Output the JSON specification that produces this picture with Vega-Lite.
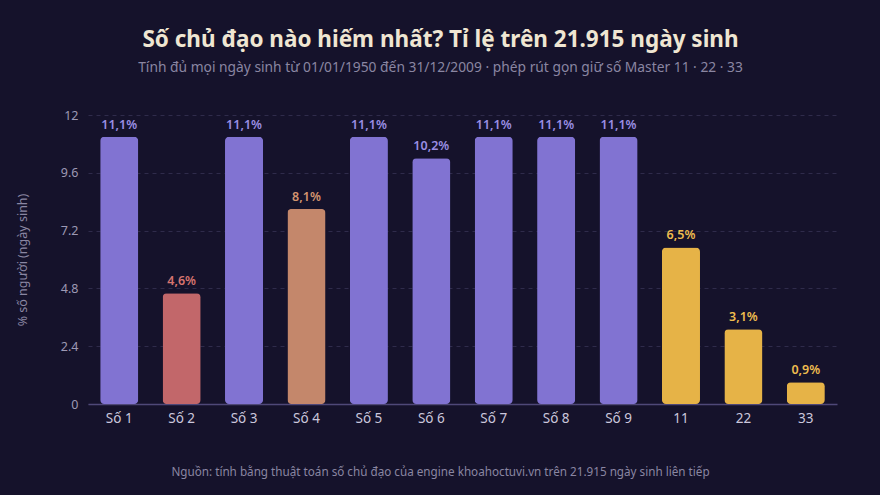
{
  "$schema": "https://vega.github.io/schema/vega-lite/v6.json",
  "width": 749,
  "height": 289,
  "autosize": {"type": "none"},
  "padding": {"left": 88, "top": 115, "right": 43, "bottom": 91},
  "background": "#15122b",
  "title": {
    "text": "Số chủ đạo nào hiếm nhất? Tỉ lệ trên 21.915 ngày sinh",
    "subtitle": "Tính đủ mọi ngày sinh từ 01/01/1950 đến 31/12/2009 · phép rút gọn giữ số Master 11 · 22 · 33",
    "anchor": "middle",
    "dx": -22,
    "offset": 34,
    "font": "Noto Sans",
    "fontSize": 22.5,
    "fontWeight": "bold",
    "color": "#efe6d2",
    "subtitleFont": "Noto Sans",
    "subtitleFontSize": 13.8,
    "subtitleColor": "#8a86a2",
    "subtitlePadding": 10
  },
  "data": {
    "values": [
      {"so": "Số 1", "pct": 11.1, "nhan": "11,1%", "nhom": "thuong"},
      {"so": "Số 2", "pct": 4.6, "nhan": "4,6%", "nhom": "hai"},
      {"so": "Số 3", "pct": 11.1, "nhan": "11,1%", "nhom": "thuong"},
      {"so": "Số 4", "pct": 8.1, "nhan": "8,1%", "nhom": "bon"},
      {"so": "Số 5", "pct": 11.1, "nhan": "11,1%", "nhom": "thuong"},
      {"so": "Số 6", "pct": 10.2, "nhan": "10,2%", "nhom": "thuong"},
      {"so": "Số 7", "pct": 11.1, "nhan": "11,1%", "nhom": "thuong"},
      {"so": "Số 8", "pct": 11.1, "nhan": "11,1%", "nhom": "thuong"},
      {"so": "Số 9", "pct": 11.1, "nhan": "11,1%", "nhom": "thuong"},
      {"so": "11", "pct": 6.5, "nhan": "6,5%", "nhom": "master"},
      {"so": "22", "pct": 3.1, "nhan": "3,1%", "nhom": "master"},
      {"so": "33", "pct": 0.9, "nhan": "0,9%", "nhom": "master"}
    ]
  },
  "encoding": {
    "x": {
      "field": "so",
      "type": "nominal",
      "sort": null,
      "scale": {"paddingInner": 0.39, "paddingOuter": 0.195},
      "axis": {
        "title": "Nguồn: tính bằng thuật toán số chủ đạo của engine khoahoctuvi.vn trên 21.915 ngày sinh liên tiếp",
        "titleFont": "Noto Sans",
        "titleFontSize": 11.7,
        "titleFontWeight": "normal",
        "titleColor": "#8a86a2",
        "titlePadding": 42,
        "titleX": 352,
        "titleAlign": "center",
        "labelAngle": 0,
        "labelFont": "Noto Sans",
        "labelFontSize": 13.5,
        "labelColor": "#cbc7dc",
        "labelPadding": 7,
        "ticks": false,
        "domainColor": "#4f4878",
        "domainWidth": 1.5
      }
    },
    "y": {
      "field": "pct",
      "type": "quantitative",
      "scale": {"domain": [0, 12], "nice": false},
      "axis": {
        "values": [0, 2.4, 4.8, 7.2, 9.6, 12],
        "format": "~g",
        "title": "% số người (ngày sinh)",
        "titleFont": "Noto Sans",
        "titleFontSize": 12.5,
        "titleFontWeight": "normal",
        "titleColor": "#8a86a2",
        "titlePadding": 31,
        "labelFont": "Noto Sans",
        "labelFontSize": 12.5,
        "labelColor": "#9d99b4",
        "labelPadding": 10,
        "ticks": false,
        "domain": false,
        "gridColor": "#2f2b4b",
        "gridDash": [4, 4],
        "gridWidth": 1
      }
    }
  },
  "layer": [
    {
      "mark": {"type": "bar", "cornerRadius": 4},
      "encoding": {
        "color": {
          "field": "nhom",
          "type": "nominal",
          "scale": {
            "domain": ["thuong", "hai", "bon", "master"],
            "range": ["#8173d2", "#c2676a", "#c4876b", "#e6b347"]
          },
          "legend": null
        }
      }
    },
    {
      "mark": {"type": "text", "baseline": "bottom", "dy": -5, "font": "Noto Sans", "fontSize": 12.5, "fontWeight": 600},
      "encoding": {
        "text": {"field": "nhan"},
        "color": {
          "field": "nhom",
          "type": "nominal",
          "scale": {
            "domain": ["thuong", "hai", "bon", "master"],
            "range": ["#9a8ee4", "#d6746f", "#d4946f", "#efbd4f"]
          },
          "legend": null
        }
      }
    }
  ],
  "resolve": {"scale": {"color": "independent"}},
  "config": {"view": {"stroke": null}}
}
